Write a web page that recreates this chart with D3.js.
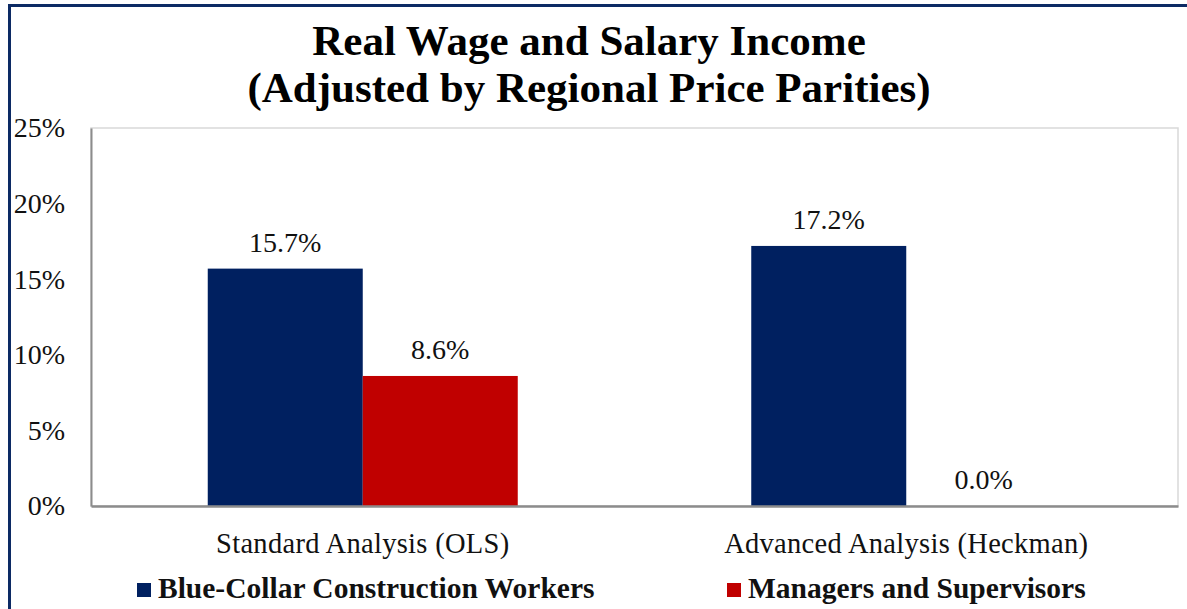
<!DOCTYPE html>
<html lang="en">
<head>
  <meta charset="UTF-8">
  <title>Real Wage and Salary Income</title>
  <style>
    body { margin: 0; background: #fff; }
    svg { display: block; font-family: "Liberation Serif", "Times New Roman", serif; }
  </style>
</head>
<body>
  <div id="chart"></div>

  <script src="https://d3js.org/d3.v7.min.js"></script>
  <script>
    // data
    const categories = ["Standard Analysis (OLS)", "Advanced Analysis (Heckman)"];
    const series = ["Blue-Collar Construction Workers", "Managers and Supervisors"];
    const blueCollar = [15.7, 17.2];
    const managers = [8.6, 0.0];
    const yTicks = [0, 5, 10, 15, 20, 25];

    const width = 1187,
          height = 609,
          margin = {top: 128, right: 9, bottom: 103, left: 91};

    const colors = ["#002060", "#C00000"];
    const values = [blueCollar, managers];

    const data = categories.map((c, i) => ({
      group: c,
      vals: series.map((s, j) => ({key: s, idx: j, value: values[j][i]}))
    }));

    const svg = d3.select("#chart")
      .append("svg")
      .attr("width", width)
      .attr("height", height)
      .attr("viewBox", [0, 0, width, height]);

    // outer chart border (only top and left show)
    svg.append("rect")
      .attr("x", 9.5).attr("y", 5.5)
      .attr("width", width + 20).attr("height", height + 20)
      .attr("fill", "none")
      .attr("stroke", "#0c2a64")
      .attr("stroke-width", 3);

    svg.append("text")
      .attr("x", 589).attr("y", 55)
      .attr("text-anchor", "middle")
      .attr("font-weight", "bold")
      .attr("font-size", 43)
      .text("Real Wage and Salary Income");

    svg.append("text")
      .attr("x", 589).attr("y", 102)
      .attr("text-anchor", "middle")
      .attr("font-weight", "bold")
      .attr("font-size", 43)
      .text("(Adjusted by Regional Price Parities)");

    const x0 = d3.scaleBand(categories, [margin.left, width - margin.right]);
    const x1 = d3.scaleBand(series, [0, 310]);
    const y = d3.scaleLinear([0, 25], [height - margin.bottom, margin.top]);

    // plot area frame
    svg.append("rect")
      .attr("x", margin.left).attr("y", margin.top)
      .attr("width", width - margin.right - margin.left)
      .attr("height", height - margin.bottom - margin.top)
      .attr("fill", "none")
      .attr("stroke", "#d9d9d9")
      .attr("stroke-width", 1.5);

    const groups = svg.append("g")
      .selectAll("g")
      .data(data)
      .join("g")
      .attr("transform", d => `translate(${x0(d.group) + (x0.bandwidth() - 310) / 2},0)`);

    groups.selectAll("rect")
      .data(d => d.vals)
      .join("rect")
      .attr("x", d => x1(d.key))
      .attr("y", d => y(d.value))
      .attr("width", x1.bandwidth())
      .attr("height", d => y(0) - y(d.value))
      .attr("fill", d => colors[d.idx]);

    groups.selectAll("text")
      .data(d => d.vals)
      .join("text")
      .attr("x", d => x1(d.key) + x1.bandwidth() / 2)
      .attr("y", d => y(d.value) - 17)
      .attr("text-anchor", "middle")
      .attr("font-size", 28)
      .attr("fill", "#111")
      .text(d => d.value.toFixed(1) + "%");

    const yAxis = svg.append("g")
      .attr("transform", `translate(${margin.left},0)`)
      .attr("font-family", "Liberation Serif")
      .call(d3.axisLeft(y).tickValues(yTicks).tickSize(0).tickPadding(26).tickFormat(d => d + "%"));
    yAxis.attr("font-family", "Liberation Serif");
    yAxis.select(".domain").attr("stroke", "#8c8c8c").attr("stroke-width", 2);
    yAxis.selectAll("text")
      .attr("font-size", 28)
      .attr("fill", "#111");

    const xAxis = svg.append("g")
      .attr("transform", `translate(0,${height - margin.bottom})`)
      .call(d3.axisBottom(x0).tickSize(0).tickPadding(27));
    xAxis.attr("font-family", "Liberation Serif");
    xAxis.select(".domain").attr("stroke", "#8c8c8c").attr("stroke-width", 2.5);
    xAxis.selectAll("text")
      .attr("font-size", 28.5)
      .attr("letter-spacing", 0.3)
      .attr("fill", "#111");

    // legend
    const legendX = [137, 727];
    const legend = svg.selectAll(".legend-group")
      .data(series)
      .join("g")
      .attr("class", "legend-group");

    legend.append("rect")
      .attr("x", (d, i) => legendX[i])
      .attr("y", 583)
      .attr("width", 14)
      .attr("height", 14)
      .attr("fill", (d, i) => colors[i]);

    legend.append("text")
      .attr("x", (d, i) => legendX[i] + 21)
      .attr("y", 598)
      .attr("font-weight", "bold")
      .attr("font-size", 29.5)
      .attr("fill", "#111")
      .text(d => d);
  </script>
</body>
</html>
